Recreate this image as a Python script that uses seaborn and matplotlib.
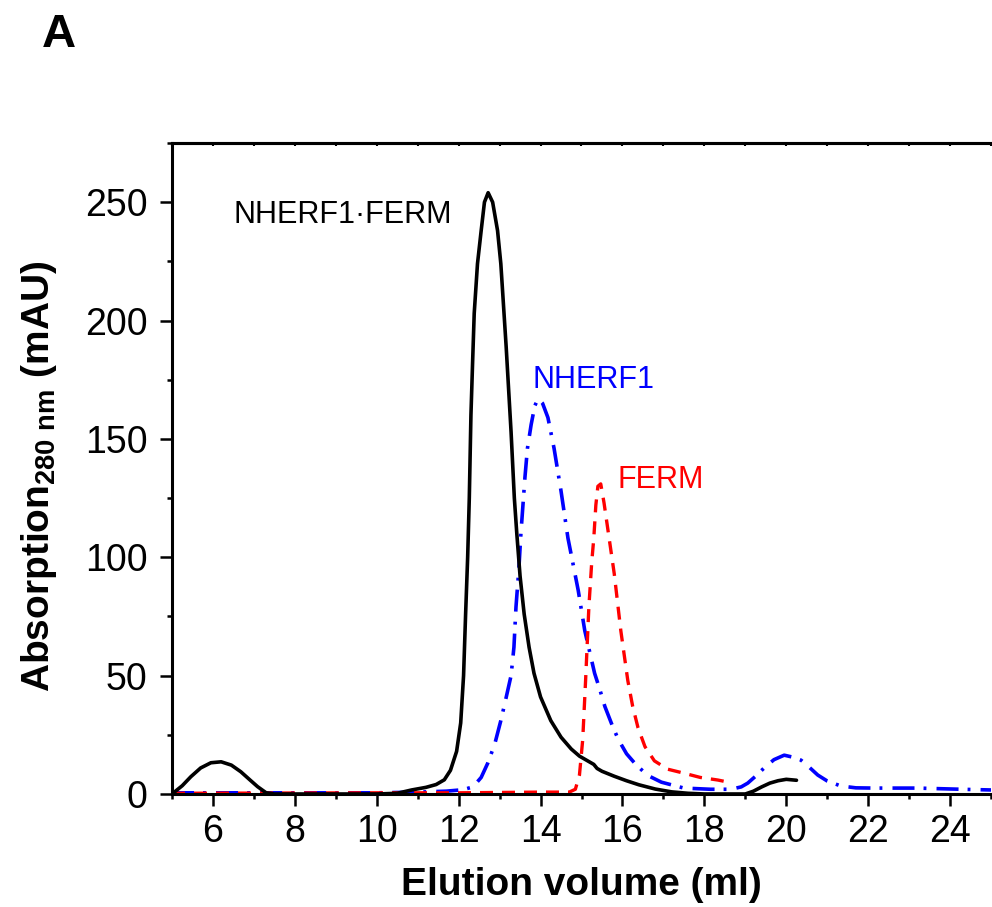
import matplotlib
matplotlib.use("Agg")
import matplotlib.pyplot as plt
from matplotlib.ticker import MultipleLocator
import pandas as pd
import seaborn as sns

# elution profiles (ml, mAU)
complex_ml = [5.0, 5.25, 5.46, 5.7, 5.95, 6.2, 6.45, 6.68, 6.9, 7.09, 7.3, 7.5, 9.0, 10.0,
              10.5, 10.85, 11.2, 11.45, 11.65, 11.8, 11.95, 12.05, 12.12, 12.17, 12.22,
              12.26, 12.3, 12.34, 12.38, 12.46, 12.55, 12.63, 12.72, 12.83, 12.95, 13.03,
              13.16, 13.28, 13.36, 13.42, 13.5, 13.6, 13.72, 13.84, 14.0, 14.25, 14.5,
              14.75, 14.95, 15.15, 15.3, 15.38, 15.5, 15.8, 16.1, 16.4, 16.8, 17.2, 17.6,
              18.0, 18.5, 19.0, 19.2, 19.4, 19.6, 19.8, 20.0, 20.25]
complex_mau = [0, 3.5, 7.3, 11, 13.2, 13.6, 12.2, 9.4, 6, 3.1, 0.5, 0, 0, 0,
               0.3, 1.7, 2.8, 4, 6, 10, 18, 30, 50, 76, 100,
               125, 160, 182, 203, 224, 238, 250, 254, 250, 238, 224,
               189, 153, 125, 110, 92, 76, 62, 51, 41, 31, 24,
               19, 16, 14, 12.5, 10.8, 9.6, 7.5, 5.6, 3.9, 2.1, 0.9, 0.3,
               0, 0, 0, 1.2, 3, 4.6, 5.6, 6.2, 5.8]

nherf1_ml = [5.0, 8.0, 10.0, 11.0, 11.7, 12.1, 12.35, 12.55, 12.71, 12.88, 13.03, 13.15,
             13.28, 13.35, 13.4, 13.47, 13.52, 13.57, 13.62, 13.68, 13.77, 13.86, 13.94,
             14.05, 14.18, 14.33, 14.5, 14.67, 14.75, 14.92, 15.08, 15.2, 15.32, 15.45,
             15.57, 15.75, 15.9, 16.1, 16.3, 16.6, 16.95, 17.5, 18.15, 18.65, 18.9, 19.06,
             19.25, 19.46, 19.7, 19.95, 20.15, 20.36, 20.55, 20.77, 21.0, 21.33, 21.7,
             22.14, 23.2, 24.27, 25.0]
nherf1_mau = [0.5, 0.5, 0.5, 0.8, 1.2, 1.8, 3, 7, 13, 21, 31, 40,
              50, 62, 79, 95, 110, 122, 134, 146, 156, 164, 167,
              165, 159, 146, 128, 108, 101, 86, 69, 60, 51, 44,
              37, 29, 23, 17, 13, 8, 5, 2.5, 2, 2, 3, 4.6,
              7.5, 11, 14.5, 16.4, 15.6, 14.3, 11.5, 8, 5.5, 3.4, 2.6,
              2.5, 2.5, 2, 1.7]

ferm_ml = [5.0, 10.0, 12.0, 14.0, 14.7, 14.85, 14.95, 15.03, 15.1, 15.18, 15.25, 15.3,
           15.35, 15.4, 15.47, 15.55, 15.65, 15.8, 15.96, 16.13, 16.25, 16.38, 16.55,
           16.78, 17.1, 17.5, 17.9, 18.33, 18.5]
ferm_mau = [0.3, 0.5, 0.5, 0.8, 0.8, 2, 8, 23, 48, 79, 98, 108,
            122, 130, 131, 123, 111, 93, 69, 48, 37, 28, 20,
            14, 10.5, 8.8, 7, 5.9, 5.3]

sns.set_style("ticks")
plt.rcParams["font.family"] = ["Liberation Sans", "DejaVu Sans"]
plt.rcParams["mathtext.fontset"] = "custom"
plt.rcParams["mathtext.rm"] = "Liberation Sans:bold"
plt.rcParams["mathtext.default"] = "rm"

fig = plt.figure(figsize=(9.92, 9.07), dpi=100)
ax = fig.add_axes([172 / 992, 1 - 794 / 907, 819 / 992, 651 / 907])

complex_df = pd.DataFrame({"ml": complex_ml, "mau": complex_mau})
nherf1_df = pd.DataFrame({"ml": nherf1_ml, "mau": nherf1_mau})
ferm_df = pd.DataFrame({"ml": ferm_ml, "mau": ferm_mau})

sns.lineplot(data=nherf1_df, x="ml", y="mau", ax=ax, color="blue", linewidth=2.6)
ax.lines[-1].set_dashes([6.1, 2.5, 0.8, 2.8])
sns.lineplot(data=ferm_df, x="ml", y="mau", ax=ax, color="red", linewidth=2.4)
ax.lines[-1].set_dashes([3.9, 2.7])
sns.lineplot(data=complex_df, x="ml", y="mau", ax=ax, color="black", linewidth=2.6)

ax.set_xlim(5, 25)
ax.set_ylim(0, 275)
ax.xaxis.set_major_locator(MultipleLocator(2))
ax.xaxis.set_minor_locator(MultipleLocator(1))
ax.yaxis.set_major_locator(MultipleLocator(50))
ax.yaxis.set_minor_locator(MultipleLocator(25))
ax.set_xticks(range(6, 25, 2))

for side in ["left", "bottom", "top"]:
    ax.spines[side].set_linewidth(2.2)
    ax.spines[side].set_color("black")
ax.spines["right"].set_visible(False)

ax.tick_params(axis="both", which="major", direction="out", length=8.5, width=1.8,
               labelsize=27, colors="black")
ax.tick_params(axis="both", which="minor", direction="out", length=3.8, width=1.8,
               colors="black")
ax.tick_params(axis="y", which="major", pad=9)
ax.tick_params(axis="x", which="major", pad=6)

top = ax.secondary_xaxis("top")
top.xaxis.set_major_locator(MultipleLocator(1))
top.tick_params(direction="in", length=2, width=1.5, labeltop=False, colors="black")
top.spines["top"].set_linewidth(2.2)
top.spines["top"].set_color("black")

ax.set_xlabel("Elution volume (ml)", fontsize=28, fontweight="bold", labelpad=12,
              color="black")
ax.set_ylabel(r"Absorption$_{280\ nm}$ (mAU)", fontsize=28, fontweight="bold",
              labelpad=19, color="black")
ax.yaxis.label.set_y(0.488)

ax.text(6.51, 241.3, "NHERF1\u00b7FERM", fontsize=22, color="black", va="baseline")
ax.text(13.81, 171.5, "NHERF1", fontsize=22, color="blue", va="baseline")
ax.text(15.87, 129.2, "FERM", fontsize=22, color="red", va="baseline")

fig.text(0.042, 0.948, "A", fontsize=34, fontweight="bold", va="baseline", color="black")

fig.savefig("out.png", dpi=100)
